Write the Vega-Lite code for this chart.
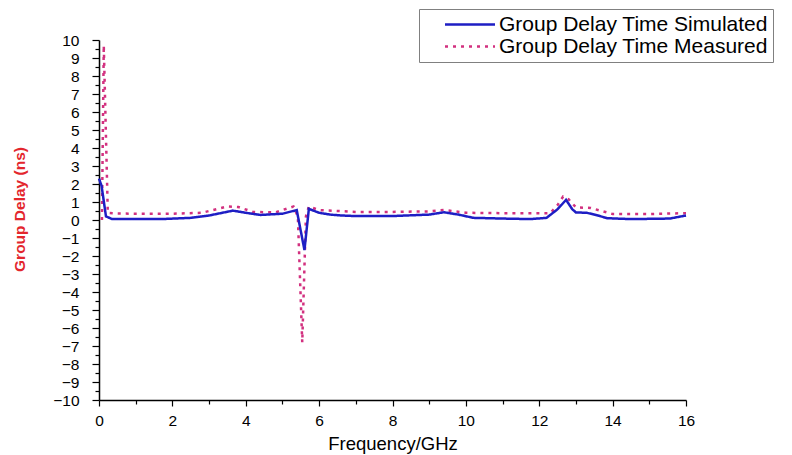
{
  "$schema": "https://vega.github.io/schema/vega-lite/v6.json",
  "width": 587,
  "height": 360,
  "autosize": {"type": "none"},
  "padding": {"left": 99, "top": 40, "right": 106, "bottom": 55},
  "background": "white",
  "config": {"view": {"stroke": null}, "font": "Liberation Sans"},
  "data": {
    "values": [
      {"f": 0.08, "v": 0.0, "s": "Group Delay Time Measured"},
      {"f": 0.13, "v": 9.7, "s": "Group Delay Time Measured"},
      {"f": 0.24, "v": 0.4, "s": "Group Delay Time Measured"},
      {"f": 0.5, "v": 0.36, "s": "Group Delay Time Measured"},
      {"f": 1.0, "v": 0.35, "s": "Group Delay Time Measured"},
      {"f": 2.0, "v": 0.35, "s": "Group Delay Time Measured"},
      {"f": 2.8, "v": 0.4, "s": "Group Delay Time Measured"},
      {"f": 3.2, "v": 0.6, "s": "Group Delay Time Measured"},
      {"f": 3.5, "v": 0.75, "s": "Group Delay Time Measured"},
      {"f": 3.8, "v": 0.72, "s": "Group Delay Time Measured"},
      {"f": 4.2, "v": 0.45, "s": "Group Delay Time Measured"},
      {"f": 4.8, "v": 0.42, "s": "Group Delay Time Measured"},
      {"f": 5.3, "v": 0.75, "s": "Group Delay Time Measured"},
      {"f": 5.42, "v": 0.2, "s": "Group Delay Time Measured"},
      {"f": 5.54, "v": -6.8, "s": "Group Delay Time Measured"},
      {"f": 5.64, "v": 0.2, "s": "Group Delay Time Measured"},
      {"f": 5.72, "v": 0.75, "s": "Group Delay Time Measured"},
      {"f": 6.0, "v": 0.55, "s": "Group Delay Time Measured"},
      {"f": 7.0, "v": 0.45, "s": "Group Delay Time Measured"},
      {"f": 8.0, "v": 0.45, "s": "Group Delay Time Measured"},
      {"f": 9.0, "v": 0.48, "s": "Group Delay Time Measured"},
      {"f": 9.4, "v": 0.56, "s": "Group Delay Time Measured"},
      {"f": 10.0, "v": 0.4, "s": "Group Delay Time Measured"},
      {"f": 11.0, "v": 0.38, "s": "Group Delay Time Measured"},
      {"f": 12.3, "v": 0.38, "s": "Group Delay Time Measured"},
      {"f": 12.5, "v": 0.83, "s": "Group Delay Time Measured"},
      {"f": 12.65, "v": 1.3, "s": "Group Delay Time Measured"},
      {"f": 12.8, "v": 1.15, "s": "Group Delay Time Measured"},
      {"f": 13.0, "v": 0.7, "s": "Group Delay Time Measured"},
      {"f": 13.4, "v": 0.67, "s": "Group Delay Time Measured"},
      {"f": 14.0, "v": 0.33, "s": "Group Delay Time Measured"},
      {"f": 15.0, "v": 0.33, "s": "Group Delay Time Measured"},
      {"f": 16.0, "v": 0.38, "s": "Group Delay Time Measured"},
      {"f": 0.0, "v": 2.3, "s": "Group Delay Time Simulated"},
      {"f": 0.07, "v": 1.9, "s": "Group Delay Time Simulated"},
      {"f": 0.19, "v": 0.2, "s": "Group Delay Time Simulated"},
      {"f": 0.35, "v": 0.06, "s": "Group Delay Time Simulated"},
      {"f": 1.0, "v": 0.05, "s": "Group Delay Time Simulated"},
      {"f": 1.7, "v": 0.05, "s": "Group Delay Time Simulated"},
      {"f": 2.5, "v": 0.12, "s": "Group Delay Time Simulated"},
      {"f": 3.0, "v": 0.25, "s": "Group Delay Time Simulated"},
      {"f": 3.65, "v": 0.52, "s": "Group Delay Time Simulated"},
      {"f": 4.0, "v": 0.4, "s": "Group Delay Time Simulated"},
      {"f": 4.4, "v": 0.28, "s": "Group Delay Time Simulated"},
      {"f": 5.0, "v": 0.35, "s": "Group Delay Time Simulated"},
      {"f": 5.39, "v": 0.55, "s": "Group Delay Time Simulated"},
      {"f": 5.6, "v": -1.67, "s": "Group Delay Time Simulated"},
      {"f": 5.72, "v": 0.62, "s": "Group Delay Time Simulated"},
      {"f": 6.0, "v": 0.4, "s": "Group Delay Time Simulated"},
      {"f": 6.3, "v": 0.3, "s": "Group Delay Time Simulated"},
      {"f": 6.6, "v": 0.25, "s": "Group Delay Time Simulated"},
      {"f": 7.0, "v": 0.22, "s": "Group Delay Time Simulated"},
      {"f": 8.0, "v": 0.22, "s": "Group Delay Time Simulated"},
      {"f": 9.0, "v": 0.3, "s": "Group Delay Time Simulated"},
      {"f": 9.4, "v": 0.43, "s": "Group Delay Time Simulated"},
      {"f": 9.8, "v": 0.3, "s": "Group Delay Time Simulated"},
      {"f": 10.2, "v": 0.12, "s": "Group Delay Time Simulated"},
      {"f": 11.0, "v": 0.08, "s": "Group Delay Time Simulated"},
      {"f": 11.76, "v": 0.05, "s": "Group Delay Time Simulated"},
      {"f": 12.2, "v": 0.12, "s": "Group Delay Time Simulated"},
      {"f": 12.5, "v": 0.6, "s": "Group Delay Time Simulated"},
      {"f": 12.73, "v": 1.12, "s": "Group Delay Time Simulated"},
      {"f": 12.9, "v": 0.6, "s": "Group Delay Time Simulated"},
      {"f": 13.0, "v": 0.42, "s": "Group Delay Time Simulated"},
      {"f": 13.3, "v": 0.4, "s": "Group Delay Time Simulated"},
      {"f": 13.6, "v": 0.25, "s": "Group Delay Time Simulated"},
      {"f": 13.85, "v": 0.1, "s": "Group Delay Time Simulated"},
      {"f": 14.5, "v": 0.05, "s": "Group Delay Time Simulated"},
      {"f": 15.56, "v": 0.08, "s": "Group Delay Time Simulated"},
      {"f": 16.0, "v": 0.25, "s": "Group Delay Time Simulated"}
    ]
  },
  "mark": {"type": "line", "strokeWidth": 2.5, "strokeCap": "butt"},
  "encoding": {
    "x": {
      "field": "f",
      "type": "quantitative",
      "scale": {"domain": [0, 16], "nice": false, "zero": false},
      "axis": {
        "values": [0, 1, 2, 3, 4, 5, 6, 7, 8, 9, 10, 11, 12, 13, 14, 15, 16],
        "labelExpr": "datum.value % 2 === 0 ? format(datum.value, 'd') : ''",
        "tickSize": {"condition": {"test": "datum.value % 2 === 0", "value": 6}, "value": 4},
        "labelFontSize": 15.5,
        "labelColor": "black",
        "labelPadding": 7,
        "labelOverlap": false,
        "labelBound": false,
        "labelFlush": false,
        "domainColor": "black",
        "domainWidth": 1.5,
        "tickColor": "black",
        "tickWidth": 1.2,
        "grid": false,
        "title": "Frequency/GHz",
        "titleFontSize": 18.5,
        "titleFontWeight": "normal",
        "titleColor": "black",
        "titlePadding": 6
      }
    },
    "y": {
      "field": "v",
      "type": "quantitative",
      "scale": {"domain": [-10, 10], "nice": false, "zero": false},
      "axis": {
        "values": [-10, -9.5, -9, -8.5, -8, -7.5, -7, -6.5, -6, -5.5, -5, -4.5, -4, -3.5, -3, -2.5, -2, -1.5, -1, -0.5, 0, 0.5, 1, 1.5, 2, 2.5, 3, 3.5, 4, 4.5, 5, 5.5, 6, 6.5, 7, 7.5, 8, 8.5, 9, 9.5, 10],
        "labelExpr": "datum.value % 1 === 0 ? format(datum.value, 'd') : ''",
        "tickSize": {"condition": {"test": "datum.value % 1 === 0", "value": 7}, "value": 4},
        "labelFontSize": 15.5,
        "labelColor": "black",
        "labelPadding": 13,
        "labelOverlap": false,
        "labelBound": false,
        "labelFlush": false,
        "domainColor": "black",
        "domainWidth": 1.5,
        "tickColor": "black",
        "tickWidth": 1.2,
        "grid": false,
        "title": "Group Delay (ns)",
        "titleColor": "#e3262d",
        "titleFontWeight": "bold",
        "titleFontSize": 15.5,
        "titleX": -72,
        "titleY": 169
      }
    },
    "color": {
      "field": "s",
      "type": "nominal",
      "scale": {
        "domain": ["Group Delay Time Simulated", "Group Delay Time Measured"],
        "range": ["#1e1ec4", "#d2307f"]
      },
      "legend": {
        "orient": "none",
        "legendX": 320,
        "legendY": -31,
        "title": null,
        "symbolType": "M-5,0H5",
        "symbolSize": 100,
        "symbolStrokeWidth": 2.5,
        "labelFontSize": 21,
        "labelColor": "black",
        "labelLimit": 500,
        "strokeColor": "#808080",
        "fillColor": "white",
        "padding": 5,
        "symbolOffset": 35.5,
        "labelOffset": 18.5,
        "rowPadding": 0
      }
    },
    "strokeDash": {
      "field": "s",
      "type": "nominal",
      "scale": {
        "domain": ["Group Delay Time Simulated", "Group Delay Time Measured"],
        "range": [[1, 0], [3, 5]]
      },
      "legend": {
        "orient": "none",
        "legendX": 320,
        "legendY": -31,
        "title": null,
        "symbolType": "M-5,0H5",
        "symbolSize": 100,
        "symbolStrokeWidth": 2.5,
        "labelFontSize": 21,
        "labelColor": "black",
        "labelLimit": 500,
        "strokeColor": "#808080",
        "fillColor": "white",
        "padding": 5,
        "symbolOffset": 35.5,
        "labelOffset": 18.5,
        "rowPadding": 0
      }
    }
  }
}
